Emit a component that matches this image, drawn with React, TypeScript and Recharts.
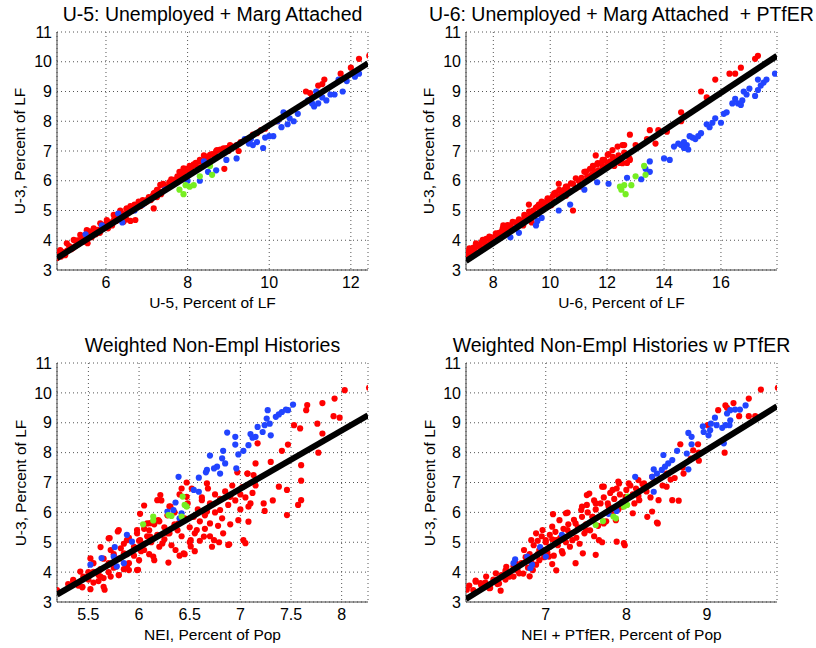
import React from "react"
import { ScatterChart, Scatter, XAxis, YAxis, CartesianGrid } from "recharts"

type Pt = [number, number]

// shared y axis: U-3, percent of LF
const u3Ticks = [3, 4, 5, 6, 7, 8, 9, 10, 11]
const u3Domain: Pt = [3, 11]

// panel 1: U-5
const u5Ticks = [6, 8, 10, 12]
const u5Domain: Pt = [4.8, 12.42]
const u5Fit: Pt[] = [[4.8, 3.4], [12.42, 9.95]]
const u5Red: Pt[] = [
  [4.8, 3.6], [4.8, 3.4], [4.85, 3.55], [4.9, 3.45], [4.95, 3.6], [5.0, 3.5], [5.05, 3.65], [5.1, 3.8], [5.15, 3.7],
  [5.2, 3.75], [5.25, 3.8], [5.3, 3.85], [5.3, 4.0], [5.35, 3.9], [5.4, 4.05], [5.45, 3.95], [5.5, 4.05], [5.55, 3.9],
  [5.6, 4.15], [5.6, 4.3], [5.65, 4.1], [5.7, 4.25], [5.75, 4.2], [5.8, 4.35], [5.85, 4.25], [5.9, 4.45], [5.95, 4.4],
  [6.0, 4.55], [6.05, 4.4], [6.1, 4.6], [6.15, 4.5], [6.2, 4.7], [6.25, 4.65], [6.3, 4.8], [6.35, 5.0], [6.4, 4.9],
  [6.45, 4.85], [6.5, 5.05], [6.5, 4.7], [6.6, 4.65], [6.6, 5.15], [6.65, 5.0], [6.7, 5.2], [6.75, 5.1], [6.8, 5.3],
  [6.85, 5.15], [6.9, 5.35], [6.95, 5.25], [7.0, 5.3], [7.05, 5.45], [7.1, 5.35], [7.15, 5.5], [7.2, 5.6], [7.25, 5.45],
  [7.3, 5.65], [7.35, 5.55], [7.4, 5.9], [7.45, 5.75], [7.5, 5.8], [7.55, 5.95], [7.6, 6.05], [7.7, 6.0], [7.75, 6.15],
  [7.8, 6.3], [7.85, 6.1], [7.9, 6.25], [7.95, 6.4], [8.0, 6.35], [8.05, 6.5], [8.1, 6.45], [8.15, 6.55], [8.2, 6.6],
  [8.25, 6.45], [8.3, 6.7], [8.4, 6.85], [8.45, 6.7], [8.5, 6.8], [8.6, 6.9], [8.65, 6.85], [8.7, 7.0], [8.8, 7.05],
  [8.85, 6.9], [8.9, 6.4], [8.95, 7.1], [9.0, 7.0], [9.1, 7.15], [9.2, 7.2], [9.25, 7.0], [9.3, 7.3], [9.5, 7.4],
  [9.6, 7.55], [9.7, 7.6], [9.8, 7.7], [9.9, 7.75], [10.2, 8.0], [10.4, 8.25], [10.9, 9.0], [11.0, 8.95], [11.05, 8.8],
  [11.2, 9.2], [11.3, 9.25], [11.35, 9.4], [11.75, 9.6], [12.0, 9.8], [12.2, 10.1], [12.45, 10.2],
  [4.88, 3.67], [5.04, 3.9], [5.21, 4.01], [5.37, 4.18], [5.53, 4.34], [5.7, 4.4], [5.86, 4.57], [6.02, 4.68],
  [6.19, 4.85], [6.35, 4.96], [6.43, 4.62], [6.51, 5.07], [6.72, 4.68], [6.84, 5.24], [7.0, 5.35], [7.17, 5.58],
  [7.25, 5.69], [7.33, 5.86], [7.17, 5.07], [7.49, 5.8], [7.66, 6.03], [7.82, 6.14], [7.9, 6.42], [8.07, 6.36],
  [8.15, 6.53], [8.31, 6.64], [8.43, 6.81], [8.55, 6.87], [8.72, 7.03], [8.88, 7.09], [9.04, 7.2],
]
const u5Blue: Pt[] = [
  [12.2, 9.6], [12.1, 9.5], [11.9, 9.35], [11.8, 9.0], [11.7, 9.4], [11.6, 8.9], [11.5, 8.9], [11.4, 8.7], [11.3, 8.8],
  [11.2, 8.6], [11.1, 8.5], [11.05, 8.6], [11.15, 9.0], [10.95, 8.7], [10.7, 8.25], [10.6, 8.0], [10.5, 8.1], [10.45, 7.9],
  [10.35, 8.3], [10.3, 7.8], [10.2, 8.0], [10.1, 7.5], [10.0, 7.5], [9.9, 7.45], [9.85, 7.1], [9.7, 7.3], [9.6, 7.2],
  [9.55, 7.4], [9.4, 7.4], [9.5, 7.25], [9.2, 6.75], [8.95, 6.7], [8.7, 6.35], [8.5, 6.3], [8.4, 6.65], [8.3, 6.0],
  [8.0, 6.0], [6.4, 4.6], [6.3, 4.9], [5.9, 4.5], [5.5, 4.2], [6.9, 5.2], [7.45, 5.7], [6.7, 5.0],
]
const u5Green: Pt[] = [
  [7.8, 5.7], [7.9, 5.55], [7.95, 5.85], [8.05, 5.8], [8.15, 5.85], [8.3, 6.15], [8.6, 6.2], [8.55, 6.5],
]

// panel 2: U-6
const u6Ticks = [8, 10, 12, 14, 16]
const u6Domain: Pt = [7.04, 17.97]
const u6Fit: Pt[] = [[7.04, 3.3], [17.97, 10.2]]
const u6Red: Pt[] = [
  [7.05, 3.45], [7.1, 3.55], [7.12, 3.5], [7.15, 3.65], [7.2, 3.6], [7.3, 3.75], [7.35, 3.65], [7.4, 3.8], [7.5, 3.85],
  [7.55, 3.75], [7.6, 3.95], [7.7, 3.9], [7.75, 4.05], [7.8, 3.85], [7.9, 4.0], [7.95, 4.1], [8.0, 3.95], [8.1, 4.2],
  [8.15, 4.1], [8.2, 4.25], [8.3, 4.3], [8.35, 4.5], [8.4, 4.35], [8.5, 4.45], [8.55, 4.3], [8.6, 4.5], [8.7, 4.4],
  [8.8, 4.6], [8.85, 4.45], [8.9, 4.7], [9.0, 4.65], [9.05, 4.5], [9.1, 4.8], [9.2, 4.75], [9.25, 5.2], [9.3, 4.9],
  [9.35, 4.6], [9.4, 5.0], [9.45, 4.85], [9.5, 5.1], [9.55, 4.9], [9.6, 5.2], [9.65, 5.0], [9.7, 5.3], [9.75, 5.1],
  [9.8, 5.25], [9.9, 5.35], [9.95, 5.15], [10.0, 5.4], [10.05, 5.2], [10.1, 5.5], [10.15, 5.3], [10.2, 5.6], [10.3, 5.45],
  [10.3, 5.9], [10.4, 5.55], [10.5, 5.7], [10.55, 5.5], [10.6, 5.8], [10.7, 5.65], [10.8, 5.0], [10.8, 5.9], [10.9, 5.75],
  [11.0, 6.0], [11.05, 5.85], [11.1, 6.1], [11.2, 6.3], [11.25, 6.0], [11.3, 6.15], [11.4, 6.4], [11.45, 6.2], [11.5, 6.5],
  [11.55, 6.3], [11.6, 6.85], [11.65, 6.55], [11.7, 6.35], [11.8, 6.6], [11.85, 6.45], [11.9, 6.7], [12.0, 6.55],
  [12.05, 6.9], [12.1, 6.65], [12.2, 6.8], [12.25, 6.5], [12.3, 6.7], [12.4, 6.85], [12.45, 6.6], [12.5, 6.75],
  [12.6, 6.95], [12.6, 7.2], [12.7, 6.6], [12.8, 6.7], [12.8, 7.55], [13.0, 7.2], [13.4, 7.4], [13.5, 7.7], [13.7, 7.25],
  [13.8, 7.7], [14.1, 7.65], [14.6, 8.0], [14.6, 8.3], [15.3, 9.0], [15.5, 8.8], [15.8, 9.4], [16.3, 9.6], [16.5, 9.6],
  [16.7, 9.8], [17.2, 10.1], [17.3, 10.2],
  [7.16, 3.73], [7.39, 3.9], [7.63, 4.01], [7.86, 4.12], [8.09, 4.23], [8.33, 4.4], [8.5, 4.51], [8.68, 4.62],
  [8.91, 4.68], [9.09, 4.85], [9.26, 4.96], [9.38, 4.79], [9.56, 5.13], [9.73, 5.24], [9.91, 5.41], [10.03, 5.18],
  [10.14, 5.58], [10.32, 5.69], [10.55, 5.8], [10.73, 5.91], [10.9, 6.08], [11.08, 5.8], [11.26, 6.31], [11.49, 6.42],
  [11.67, 6.59], [11.84, 6.7], [12.02, 6.87], [12.19, 7.03], [12.37, 7.15], [12.54, 7.2], [12.54, 6.59], [12.78, 6.75],
]
const u6Blue: Pt[] = [
  [17.9, 9.6], [17.6, 9.4], [17.5, 9.3], [17.3, 9.4], [17.4, 9.2], [17.3, 9.05], [17.2, 8.85], [17.0, 9.1], [16.9, 8.9],
  [16.8, 9.0], [16.75, 8.7], [16.6, 8.6], [16.7, 8.55], [16.5, 8.75], [16.4, 8.6], [16.1, 8.25], [16.2, 8.3], [16.0, 7.95],
  [15.8, 8.1], [15.7, 7.95], [15.6, 7.8], [15.5, 7.9], [15.3, 7.6], [15.2, 7.5], [15.1, 7.4], [15.0, 7.45], [14.9, 7.5],
  [14.8, 7.2], [14.7, 7.3], [14.7, 7.1], [14.6, 7.2], [14.85, 7.05], [14.5, 7.25], [14.35, 7.15], [14.2, 6.7], [14.0, 6.75],
  [13.5, 6.65], [13.5, 6.3], [13.35, 6.4], [13.2, 6.05], [12.7, 6.1], [12.05, 5.9], [11.65, 5.95], [11.2, 5.7],
  [10.7, 5.2], [10.3, 5.0], [9.5, 4.5], [9.55, 4.65], [9.7, 4.75], [8.9, 4.25], [8.6, 4.1], [8.8, 4.4],
]
const u6Green: Pt[] = [
  [12.5, 5.7], [12.6, 5.85], [12.45, 5.8], [12.65, 5.55], [12.85, 5.85], [13.0, 6.15], [13.3, 6.5], [13.35, 6.2],
]

// panel 3: NEI
const neiTicks = [5.5, 6, 6.5, 7, 7.5, 8]
const neiDomain: Pt = [5.19, 8.26]
const neiFit: Pt[] = [[5.19, 3.25], [8.26, 9.25]]
const neiRed: Pt[] = [
  [5.19, 3.4], [5.44, 3.49], [5.52, 3.43], [5.66, 3.41], [5.42, 4.02], [5.62, 4.84], [5.71, 5.14], [5.79, 5.36],
  [5.76, 4.47], [5.88, 4.19], [5.99, 4.08], [6.05, 6.23], [6.01, 5.95], [6.11, 5.64], [6.21, 6.58], [6.29, 4.32],
  [6.47, 7.0], [6.42, 6.8], [6.51, 4.86], [6.67, 6.03], [6.67, 6.97], [6.79, 5.0], [6.89, 4.93], [6.97, 7.34],
  [7.05, 4.97], [7.08, 5.69], [7.07, 7.3], [7.15, 7.64], [7.17, 8.31], [7.23, 6.3], [7.24, 6.05], [7.3, 7.69],
  [7.32, 6.4], [7.38, 6.86], [7.41, 8.06], [7.46, 5.91], [7.47, 8.27], [7.53, 8.92], [7.59, 8.81], [7.6, 7.58],
  [7.6, 7.06], [7.6, 6.41], [7.65, 9.42], [7.66, 9.59], [7.76, 8.97], [7.77, 8.0], [7.81, 9.66], [7.81, 8.64],
  [7.93, 9.81], [7.92, 9.22], [7.98, 9.17], [8.03, 10.09], [8.27, 10.17], [7.57, 6.25], [7.46, 6.75], [7.13, 7.25],
  [5.3, 3.6], [5.35, 3.7], [5.4, 3.55], [5.45, 3.85], [5.5, 3.75], [5.5, 4.0], [5.55, 3.65], [5.55, 4.3], [5.6, 3.9],
  [5.6, 3.7], [5.62, 4.1], [5.65, 3.8], [5.65, 4.45], [5.7, 4.0], [5.7, 4.3], [5.72, 3.85], [5.75, 4.15], [5.75, 4.6],
  [5.8, 3.9], [5.8, 4.45], [5.82, 4.8], [5.85, 4.1], [5.85, 4.95], [5.88, 4.6], [5.9, 4.3], [5.9, 5.15], [5.95, 4.55],
  [5.95, 4.85], [5.98, 5.3], [6.0, 4.4], [6.0, 5.05], [6.02, 4.7], [6.05, 5.45], [6.05, 4.95], [6.08, 5.2], [6.1, 4.6],
  [6.1, 5.4], [6.12, 5.0], [6.15, 5.6], [6.15, 4.4], [6.18, 5.25], [6.2, 5.7], [6.2, 4.85], [6.22, 6.4], [6.25, 5.5],
  [6.25, 5.1], [6.28, 5.9], [6.3, 5.3], [6.3, 6.2], [6.32, 4.9], [6.35, 5.6], [6.35, 6.0], [6.38, 5.4], [6.4, 4.55],
  [6.4, 6.6], [6.42, 5.2], [6.45, 5.8], [6.45, 4.6], [6.48, 6.3], [6.5, 5.5], [6.5, 5.0], [6.52, 6.8], [6.55, 5.3],
  [6.55, 4.7], [6.58, 6.1], [6.6, 5.7], [6.6, 5.05], [6.62, 6.5], [6.65, 5.9], [6.65, 5.45], [6.68, 6.8], [6.7, 5.2],
  [6.7, 6.3], [6.72, 4.85], [6.75, 6.0], [6.75, 6.6], [6.78, 5.55], [6.8, 6.45], [6.82, 5.8], [6.85, 6.7], [6.88, 6.25],
  [6.9, 5.6], [6.9, 6.55], [6.92, 6.9], [6.95, 6.4], [7.0, 6.6], [7.0, 6.1], [7.02, 6.85], [7.05, 6.5], [7.1, 6.3],
  [7.12, 6.65], [7.15, 6.9],
  [5.35, 3.74], [5.44, 3.51], [5.52, 4.46], [5.55, 4.01], [5.62, 3.85], [5.65, 3.51], [5.7, 5.13], [5.72, 4.74],
  [5.77, 4.18], [5.8, 5.41], [5.8, 3.9], [5.85, 4.63], [5.88, 5.07], [5.9, 4.07], [5.98, 5.41], [5.98, 4.07],
  [6.01, 5.07], [6.05, 4.74], [6.08, 5.63], [6.11, 5.19], [6.14, 4.52], [6.18, 6.41], [6.19, 5.74], [6.23, 4.96],
  [6.28, 5.3], [6.31, 6.19], [6.36, 4.74], [6.39, 5.63], [6.44, 4.63], [6.47, 6.52], [6.51, 5.07], [6.54, 5.85],
  [6.57, 5.41], [6.62, 6.41], [6.64, 5.19], [6.7, 5.63], [6.74, 5.07], [6.8, 6.08], [6.83, 5.3], [6.88, 4.91],
  [6.9, 6.52], [6.98, 5.74], [7.03, 5.07], [7.07, 7.3], [7.08, 6.19],
]
const neiBlue: Pt[] = [
  [7.52, 9.61], [7.47, 9.42], [7.45, 9.44], [7.41, 9.36], [7.38, 9.28], [7.35, 9.2], [7.27, 9.42], [7.26, 9.14],
  [7.29, 8.97], [7.24, 8.92], [7.3, 8.58], [7.22, 8.69], [7.17, 8.86], [7.15, 8.53], [7.1, 8.62], [7.12, 8.5],
  [7.08, 8.25], [7.03, 8.06], [6.98, 7.94], [6.95, 8.53], [6.95, 8.27], [6.96, 7.47], [6.87, 8.67], [6.83, 8.06],
  [6.82, 7.81], [6.85, 7.64], [6.77, 7.53], [6.74, 7.47], [6.7, 7.9], [6.67, 7.42], [6.66, 7.34], [6.8, 7.3],
  [6.59, 7.16], [6.54, 6.75], [6.39, 7.19], [6.59, 6.69], [6.36, 6.33], [6.34, 6.08], [6.28, 6.03], [6.4, 5.8],
  [6.42, 5.97], [5.93, 5.02], [5.88, 5.25], [5.76, 4.84], [5.75, 4.52], [5.78, 4.19], [5.63, 4.47], [5.52, 4.25],
  [5.85, 4.3],
]
const neiGreen: Pt[] = [
  [6.04, 5.6], [6.14, 5.86], [6.14, 5.73], [6.29, 5.91], [6.32, 5.88], [6.43, 6.53], [6.45, 6.25], [6.47, 6.19], [6.42, 5.86],
]

// panel 4: NEI + PTfER
const neiPtTicks = [7, 8, 9]
const neiPtDomain: Pt = [6.01, 9.87]
const neiPtFit: Pt[] = [[6.01, 3.1], [9.87, 9.55]]
const neiPtRed: Pt[] = [
  [9.88, 10.17], [9.67, 10.11], [9.52, 9.81], [9.52, 9.22], [9.6, 9.22], [9.33, 9.66], [9.23, 9.58], [9.25, 9.5],
  [9.14, 9.42], [9.4, 9.22], [9.22, 8.0], [9.01, 8.92], [8.89, 8.28], [8.9, 7.73], [8.83, 8.08], [8.71, 7.3],
  [8.67, 8.28], [8.55, 7.1], [8.65, 6.39], [8.57, 6.41], [8.5, 6.86], [8.4, 6.41], [8.38, 5.66], [8.32, 6.03],
  [8.15, 7.08], [7.9, 7.03], [7.88, 5.02], [7.97, 4.97], [7.72, 6.86], [7.51, 6.58], [7.51, 6.25], [7.45, 6.19],
  [7.62, 4.58], [7.37, 4.3], [7.13, 4.06], [7.08, 4.27], [7.09, 5.94], [7.27, 5.99], [6.44, 3.38], [6.31, 3.47],
  [6.02, 3.41], [6.13, 3.72], [6.19, 3.63], [6.8, 3.86],
  [6.05, 3.55], [6.1, 3.4], [6.2, 3.55], [6.25, 3.65], [6.35, 3.75], [6.4, 3.6], [6.45, 3.9], [6.5, 4.05], [6.5, 3.75],
  [6.55, 3.95], [6.6, 4.2], [6.6, 3.85], [6.65, 4.05], [6.7, 4.3], [6.72, 3.95], [6.75, 4.5], [6.78, 4.15], [6.8, 4.6],
  [6.82, 4.35], [6.85, 4.9], [6.88, 4.25], [6.9, 5.05], [6.9, 4.6], [6.92, 4.4], [6.95, 5.2], [6.95, 4.75], [6.98, 4.5],
  [7.0, 5.0], [7.02, 4.65], [7.05, 5.25], [7.05, 4.85], [7.08, 5.1], [7.1, 4.55], [7.12, 5.35], [7.15, 4.9], [7.18, 5.15],
  [7.2, 4.7], [7.22, 5.45], [7.25, 5.0], [7.28, 5.6], [7.3, 4.85], [7.32, 5.3], [7.35, 5.75], [7.38, 5.15], [7.4, 5.5],
  [7.42, 4.95], [7.45, 5.85], [7.48, 5.3], [7.5, 5.6], [7.52, 6.0], [7.55, 5.4], [7.58, 5.85], [7.6, 6.4], [7.6, 5.2],
  [7.62, 6.1], [7.65, 5.55], [7.68, 6.3], [7.7, 5.0], [7.72, 6.5], [7.75, 5.7], [7.78, 6.2], [7.8, 6.65], [7.82, 5.95],
  [7.85, 6.45], [7.88, 6.8], [7.9, 6.1], [7.92, 6.6], [7.95, 6.35], [7.98, 4.9], [8.0, 6.75], [8.02, 6.5], [8.05, 6.9],
  [8.08, 6.6], [8.1, 6.3], [8.12, 6.8], [8.15, 6.55], [8.2, 6.95], [8.25, 6.7], [8.3, 6.5], [8.35, 7.05], [8.45, 6.9],
  [8.5, 7.3], [8.6, 7.15], [8.7, 7.5], [8.8, 7.8], [8.9, 8.0],
  [6.13, 3.68], [6.26, 3.85], [6.3, 3.46], [6.38, 3.96], [6.42, 3.62], [6.51, 4.18], [6.55, 3.85], [6.63, 4.29],
  [6.67, 3.96], [6.73, 4.74], [6.77, 4.4], [6.82, 5.07], [6.84, 4.07], [6.88, 5.3], [6.92, 4.74], [6.96, 5.41],
  [7.0, 5.07], [7.04, 4.52], [7.08, 5.52], [7.13, 5.07], [7.17, 5.74], [7.21, 4.63], [7.25, 5.97], [7.27, 5.41],
  [7.33, 5.07], [7.37, 5.63], [7.44, 6.08], [7.46, 4.63], [7.5, 5.41], [7.54, 6.63], [7.58, 5.85], [7.62, 6.3],
  [7.66, 5.07], [7.7, 6.86], [7.72, 5.63], [7.77, 6.3], [7.83, 6.75], [7.87, 5.74], [7.91, 6.97], [7.95, 6.19],
  [7.99, 6.52], [8.03, 6.97], [8.08, 5.97], [8.16, 6.41], [8.22, 6.97], [8.26, 5.85], [8.32, 7.19], [8.39, 5.63],
]
const neiPtBlue: Pt[] = [
  [9.48, 9.58], [9.41, 9.44], [9.35, 9.44], [9.29, 9.42], [9.29, 9.08], [9.25, 9.31], [9.28, 8.92], [9.23, 8.92],
  [9.19, 8.83], [9.21, 8.31], [9.12, 8.92], [9.1, 9.17], [9.05, 8.97], [9.04, 8.75], [9.02, 8.58], [8.96, 8.69],
  [8.95, 8.88], [8.81, 8.53], [8.77, 8.66], [8.81, 8.28], [8.75, 7.97], [8.77, 7.44], [8.63, 8.06], [8.46, 7.92],
  [8.57, 7.75], [8.52, 7.64], [8.48, 7.53], [8.44, 7.42], [8.38, 7.3], [8.34, 7.44], [8.32, 7.19], [8.34, 6.69],
  [8.11, 7.19], [7.88, 6.05], [7.78, 5.95], [7.2, 5.25], [7.0, 4.52], [6.93, 4.84], [6.83, 4.25], [6.81, 4.13],
  [6.77, 4.52], [6.62, 4.43], [6.6, 4.3],
]
const neiPtGreen: Pt[] = [
  [7.62, 5.58], [7.71, 5.71], [7.84, 5.86], [7.87, 5.8], [7.97, 6.19], [8.01, 6.25], [8.02, 6.53],
]

const FONT = '"Liberation Sans", Arial, Helvetica, sans-serif'
const RED = "#ff0000"
const BLUE = "#2244ff"
const GREEN = "#77ee22"

const toXY = (pts: Pt[]) => pts.map(([x, y]) => ({ x, y }))

const dot = (color: string) => (p: any) => <circle cx={p.cx} cy={p.cy} r={3.1} fill={color} />

type PanelProps = {
  left: number
  top: number
  plot: { l: number; r: number; t: number; b: number } // plot box in page px
  title: string
  xLabel: string
  xDomain: Pt
  xTicks: number[]
  red: Pt[]
  blue: Pt[]
  green: Pt[]
  fit: Pt[]
}

const W = 408
const H = 324

function Panel({ left, top, plot, title, xLabel, xDomain, xTicks, red, blue, green, fit }: PanelProps) {
  const yAxisW = plot.l - left
  const xAxisH = 40
  const margin = { top: plot.t - top, left: 0, right: left + W - plot.r, bottom: top + H - plot.b - xAxisH }
  const pw = plot.r - plot.l
  const ph = plot.b - plot.t
  const tickStyle = { fill: "#000", fontSize: 16, fontFamily: FONT }
  return (
    <>
      <div style={{ position: "absolute", left, top }}>
        <ScatterChart width={W} height={H} margin={margin}>
          <CartesianGrid stroke="#555" strokeDasharray="1 3" />
          <XAxis type="number" dataKey="x" domain={xDomain} ticks={xTicks} allowDataOverflow
            height={xAxisH} tickLine={false} tickSize={5} tickMargin={2} tick={tickStyle}
            axisLine={{ stroke: "#404040" }} />
          <XAxis type="number" dataKey="x" xAxisId="top" orientation="top" domain={xDomain} allowDataOverflow
            height={0} tick={false} tickLine={false} axisLine={{ stroke: "#404040" }} />
          <YAxis type="number" dataKey="y" domain={u3Domain} ticks={u3Ticks} allowDataOverflow
            width={yAxisW} tickLine={false} tickSize={3} tickMargin={2} tick={tickStyle}
            axisLine={{ stroke: "#404040" }} />
          <YAxis type="number" dataKey="y" yAxisId="right" orientation="right" domain={u3Domain} allowDataOverflow
            width={0} tick={false} tickLine={false} axisLine={{ stroke: "#404040" }} />
          <Scatter data={toXY(red)} shape={dot(RED)} isAnimationActive={false} />
          <Scatter data={toXY(blue)} shape={dot(BLUE)} isAnimationActive={false} />
          <Scatter data={toXY(green)} shape={dot(GREEN)} isAnimationActive={false} />
          <Scatter data={toXY(fit)} shape={() => <g />} line={{ stroke: "#000", strokeWidth: 6 }}
            isAnimationActive={false} />
        </ScatterChart>
      </div>
      <div style={{ position: "absolute", left: plot.l - 50, width: pw + 100, top: plot.t - 30, height: 24,
        lineHeight: "24px", textAlign: "center", fontSize: 19.5, fontFamily: FONT, color: "#000", whiteSpace: "pre" }}>
        {title}
      </div>
      <div style={{ position: "absolute", left: plot.l, width: pw, top: plot.b + 24, height: 18,
        lineHeight: "18px", textAlign: "center", fontSize: 15.5, fontFamily: FONT, color: "#000" }}>
        {xLabel}
      </div>
      <div style={{ position: "absolute", left: plot.l - 37 - ph / 2, top: plot.t + ph / 2 - 9, width: ph, height: 18,
        lineHeight: "18px", textAlign: "center", fontSize: 15.5, fontFamily: FONT, color: "#000",
        transform: "rotate(-90deg)" }}>
        U-3, Percent of LF
      </div>
    </>
  )
}

export default function App() {
  return (
    <div style={{ position: "absolute", left: 0, top: 0, width: 816, height: 648, background: "#fff" }}>
      <Panel left={0} top={0} plot={{ l: 57, r: 368, t: 32, b: 270 }}
        title="U-5: Unemployed + Marg Attached" xLabel="U-5, Percent of LF"
        xDomain={u5Domain} xTicks={u5Ticks} red={u5Red} blue={u5Blue} green={u5Green} fit={u5Fit} />
      <Panel left={408} top={0} plot={{ l: 466, r: 777, t: 32, b: 270 }}
        title="U-6: Unemployed + Marg Attached  + PTfER" xLabel="U-6, Percent of LF"
        xDomain={u6Domain} xTicks={u6Ticks} red={u6Red} blue={u6Blue} green={u6Green} fit={u6Fit} />
      <Panel left={0} top={324} plot={{ l: 57, r: 368, t: 363, b: 602 }}
        title="Weighted Non-Empl Histories" xLabel="NEI, Percent of Pop"
        xDomain={neiDomain} xTicks={neiTicks} red={neiRed} blue={neiBlue} green={neiGreen} fit={neiFit} />
      <Panel left={408} top={324} plot={{ l: 466, r: 777, t: 363, b: 602 }}
        title="Weighted Non-Empl Histories w PTfER" xLabel="NEI + PTfER, Percent of Pop"
        xDomain={neiPtDomain} xTicks={neiPtTicks} red={neiPtRed} blue={neiPtBlue} green={neiPtGreen} fit={neiPtFit} />
    </div>
  )
}
